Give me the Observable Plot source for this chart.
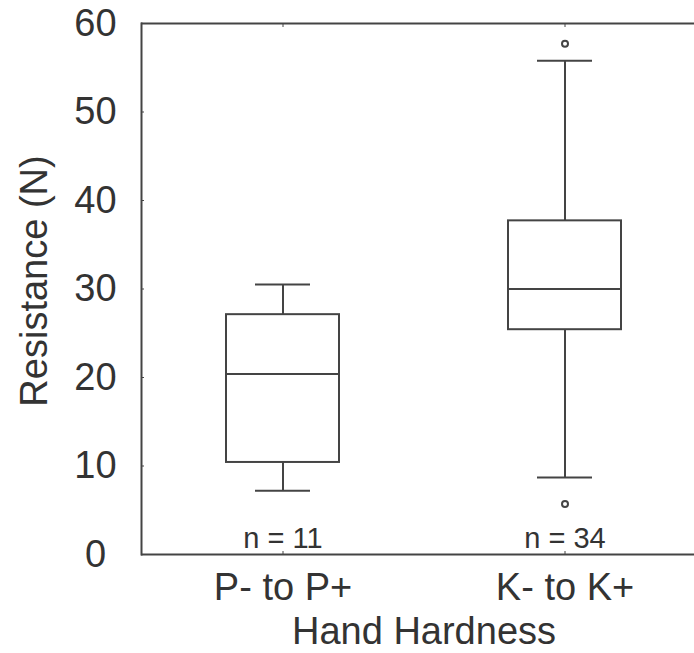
<!DOCTYPE html>
<html>
<head>
<meta charset="utf-8">
<script src="https://cdn.jsdelivr.net/npm/d3@7"></script>
<script src="https://cdn.jsdelivr.net/npm/@observablehq/plot@0.6"></script>
<style>
  html, body { margin: 0; padding: 0; background: #fff; }
</style>
</head>
<body>
<div id="chart"></div>
<script>
// Box summaries of resistance by hand hardness change
const groups = ["P- to P+", "K- to K+"];
const q1 = [10.4, 25.4];
const medians = [20.4, 30.0];
const q3 = [27.1, 37.7];
const whiskerLow = [7.2, 8.7];
const whiskerHigh = [30.5, 55.8];
const counts = [11, 34];
const outlierGroups = ["K- to K+", "K- to K+"];
const outlierValues = [57.7, 5.7];
const yTicks = [0, 10, 20, 30, 40, 50, 60];
const xTitle = "Hand Hardness";
const yTitle = "Resistance (N)";

const boxes = groups.map((g, i) => ({
  group: g, q1: q1[i], median: medians[i], q3: q3[i],
  lo: whiskerLow[i], hi: whiskerHigh[i], n: counts[i]
}));
const outliers = outlierGroups.map((g, i) => ({group: g, value: outlierValues[i]}));

const ink = "#444";
const blank = () => "";

const chart = Plot.plot({
  width: 694,
  height: 653,
  marginLeft: 141,
  marginRight: 0,
  marginTop: 23,
  marginBottom: 99,
  style: {fontFamily: "'Liberation Sans', Arial, sans-serif", color: "#333", background: "#fff", overflow: "visible"},
  x: {domain: groups, range: [141, 705], paddingInner: 0.6, paddingOuter: 0.3},
  y: {domain: [0, 60]},
  marks: [
    // plot frame: top and bottom edges, left edge
    Plot.ruleY([0, 60], {stroke: ink, strokeWidth: 2}),
    Plot.frame({anchor: "left", stroke: ink, strokeWidth: 2}),
    // axes
    Plot.axisY(yTicks, {tickSize: 0, tickPadding: 46, textAnchor: "middle", fontSize: 38, label: null}),
    Plot.axisY(yTicks, {tickSize: -3, tickFormat: blank, stroke: ink, label: null}),
    Plot.axisX({tickSize: 0, tickPadding: 19, fontSize: 38, label: null}),
    Plot.axisX({anchor: "bottom", tickSize: -3, tickFormat: blank, stroke: ink, label: null}),
    Plot.axisX({anchor: "top", tickSize: -3, tickFormat: blank, stroke: ink, label: null}),
    // whiskers
    Plot.ruleX(boxes, {x: "group", y1: "q3", y2: "hi", stroke: ink, strokeWidth: 2}),
    Plot.ruleX(boxes, {x: "group", y1: "lo", y2: "q1", stroke: ink, strokeWidth: 2}),
    Plot.tickY(boxes, {x: "group", y: "hi", stroke: ink, strokeWidth: 2, insetLeft: 29, insetRight: 29}),
    Plot.tickY(boxes, {x: "group", y: "lo", stroke: ink, strokeWidth: 2, insetLeft: 29, insetRight: 29}),
    // boxes and medians
    Plot.barY(boxes, {x: "group", y1: "q1", y2: "q3", fill: "#fff", stroke: ink, strokeWidth: 2}),
    Plot.tickY(boxes, {x: "group", y: "median", stroke: ink, strokeWidth: 2}),
    // outliers
    Plot.dot(outliers, {x: "group", y: "value", r: 3, stroke: ink, strokeWidth: 2, fill: "#fff"}),
    // sample sizes
    Plot.text(boxes, {x: "group", y: () => 0, text: d => `n = ${d.n}`, lineAnchor: "bottom", dy: -7, fontSize: 29, fill: "#333"}),
    // titles
    Plot.text([xTitle], {frameAnchor: "bottom", lineAnchor: "top", dy: 63, dx: 6, fontSize: 38, fill: "#333"}),
    Plot.text([yTitle], {frameAnchor: "left", textAnchor: "middle", rotate: -90, lineAnchor: "middle", dx: -107, dy: -8, fontSize: 38, fill: "#333"})
  ]
});

document.getElementById("chart").appendChild(chart);
</script>
</body>
</html>
